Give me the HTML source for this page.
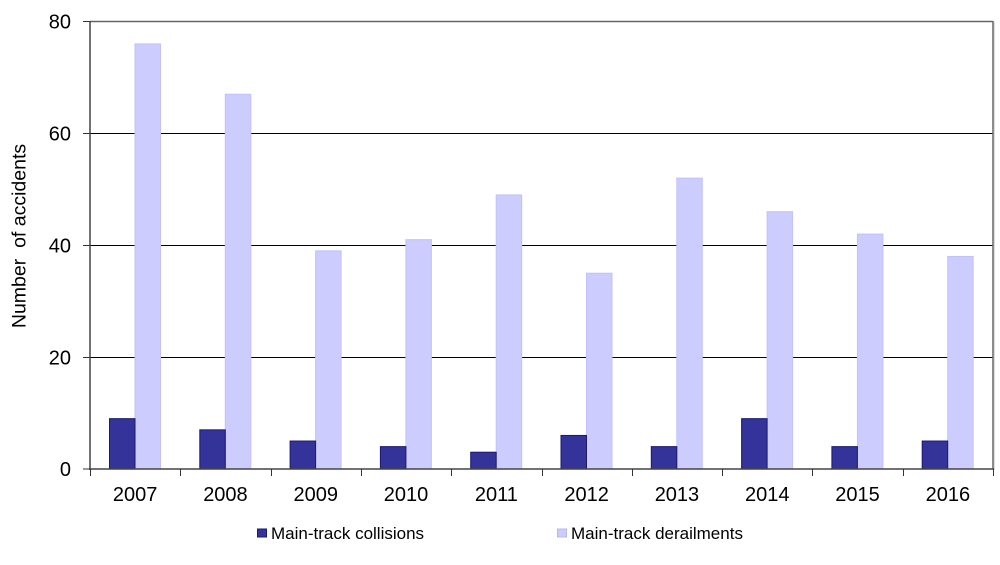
<!DOCTYPE html>
<html><head><meta charset="utf-8"><style>
html,body{margin:0;padding:0;background:#fff;}
svg{display:block;}
text{font-family:"Liberation Sans",Arial,sans-serif;fill:#000;}
</style></head><body>
<svg width="1000" height="565" viewBox="0 0 1000 565" xmlns="http://www.w3.org/2000/svg">
<rect x="0" y="0" width="1000" height="565" fill="#fff"/>
<!-- gridlines -->
<g stroke="#000" stroke-width="1">
<line x1="90" y1="133.5" x2="993" y2="133.5"/>
<line x1="90" y1="245.5" x2="993" y2="245.5"/>
<line x1="90" y1="357.5" x2="993" y2="357.5"/>
</g>
<!-- plot border -->
<line x1="90" y1="21.5" x2="993" y2="21.5" stroke="#666" stroke-width="1.5"/>
<line x1="993" y1="21" x2="993" y2="469" stroke="#666" stroke-width="1.5"/>
<line x1="994.5" y1="22" x2="994.5" y2="470" stroke="#ddd" stroke-width="1"/>
<!-- bars -->
<g id="bars"></g>
<!-- axes -->
<line x1="90" y1="21" x2="90" y2="470" stroke="#444" stroke-width="1.5"/>
<line x1="89" y1="469" x2="994" y2="469" stroke="#444" stroke-width="1.5"/>
<g stroke="#333" stroke-width="1">
<line x1="83" y1="21.5" x2="90" y2="21.5"/>
<line x1="83" y1="133.5" x2="90" y2="133.5"/>
<line x1="83" y1="245.5" x2="90" y2="245.5"/>
<line x1="83" y1="357.5" x2="90" y2="357.5"/>
<line x1="83" y1="469" x2="90" y2="469"/>
</g>
<g id="xticks" stroke="#333" stroke-width="1"></g>
<!-- y labels -->
<g font-size="20" text-anchor="end">
<text x="71" y="28.5">80</text>
<text x="71" y="140.5">60</text>
<text x="71" y="252.5">40</text>
<text x="71" y="364.5">20</text>
<text x="71" y="476">0</text>
</g>
<g id="xlabels" font-size="20" text-anchor="middle"></g>
<text transform="translate(25.5,236) rotate(-90)" font-size="19.5" text-anchor="middle">Number&#160; of accidents</text>
<!-- legend -->
<rect x="257.5" y="529" width="9" height="8" fill="#333399" stroke="#1a1a70" stroke-width="1"/>
<text x="271" y="539" font-size="17">Main-track collisions</text>
<rect x="557.5" y="529" width="9" height="8" fill="#ccccff" stroke="#b8b8f0" stroke-width="1"/>
<text x="571" y="539" font-size="17">Main-track derailments</text>
</svg>
<script>
(function(){
var ns="http://www.w3.org/2000/svg";
var col=[9,7,5,4,3,6,4,9,4,5];
var der=[76,67,39,41,49,35,52,46,42,38];
var years=[2007,2008,2009,2010,2011,2012,2013,2014,2015,2016];
var x0=90,x1=993,cw=(x1-x0)/10,y0=469,s=447.5/80;
var bars=document.getElementById('bars'),ticks=document.getElementById('xticks'),labs=document.getElementById('xlabels');
for(var i=0;i<10;i++){
 var cs=x0+i*cw;
 var h1=col[i]*s,h2=der[i]*s;
 var r1=document.createElementNS(ns,'rect');
 r1.setAttribute('x',cs+19.5);r1.setAttribute('y',y0-h1);r1.setAttribute('width',25.5);r1.setAttribute('height',h1);
 r1.setAttribute('fill','#333399');r1.setAttribute('stroke','#1a1a70');r1.setAttribute('stroke-width','1');
 var r2=document.createElementNS(ns,'rect');
 r2.setAttribute('x',cs+45);r2.setAttribute('y',y0-h2);r2.setAttribute('width',25.5);r2.setAttribute('height',h2);
 r2.setAttribute('fill','#ccccff');r2.setAttribute('stroke','#c2c2fa');r2.setAttribute('stroke-width','1');
 bars.appendChild(r2);bars.appendChild(r1);
 var t=document.createElementNS(ns,'text');
 t.setAttribute('x',cs+cw/2);t.setAttribute('y',501);t.textContent=years[i];labs.appendChild(t);
}
for(var j=0;j<=10;j++){
 var xx=Math.round(x0+j*cw)+0.5;
 var l=document.createElementNS(ns,'line');
 l.setAttribute('x1',xx);l.setAttribute('x2',xx);l.setAttribute('y1',469);l.setAttribute('y2',476);
 ticks.appendChild(l);
}
})();
</script>
</body></html>
